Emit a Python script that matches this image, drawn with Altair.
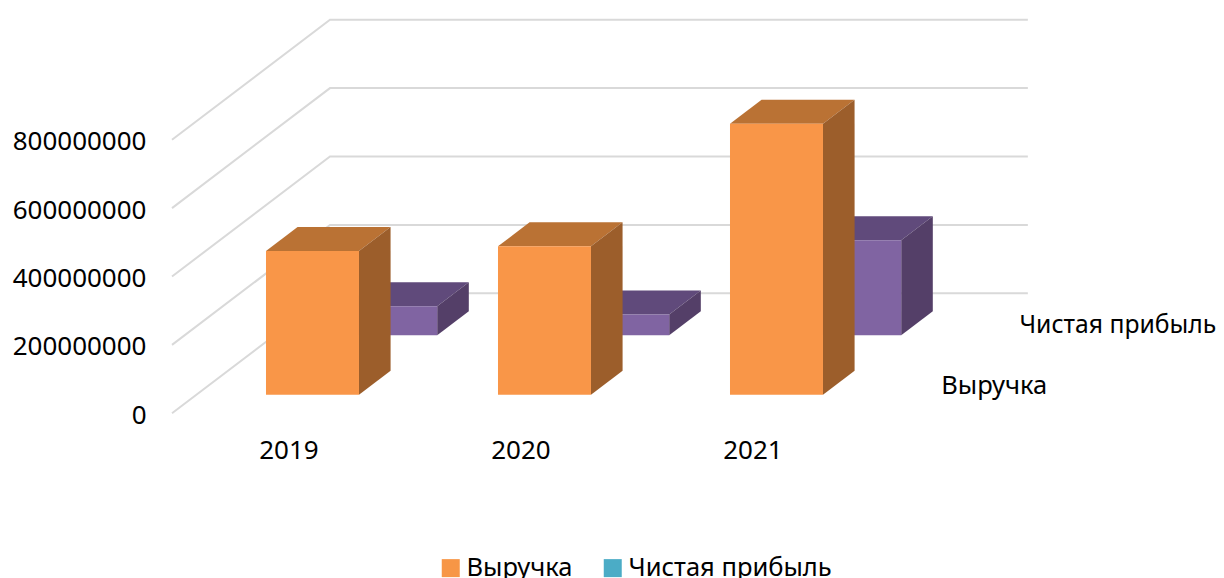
import altair as alt
import pandas as pd

years = ["2019", "2020", "2021"]
revenue = [420e6, 434e6, 792e6]
profit = [85e6, 61e6, 278e6]
series = ["Выручка", "Чистая прибыль"]
ticks = [0, 200000000, 400000000, 600000000, 800000000]

# layout of the oblique projection (pixels of the picture)
STEP = 232.0; PX_PER_UNIT = 68.4 / 200e6
DEPTH_X = 158.0 / STEP; DEPTH_Y = 120.0 / PX_PER_UNIT
BAR_W = 93.0 / STEP
PAD_L = 165
W, H = 1043, 570
LEFT_PX, BASE_PX, ZERO_X = 173.0, 413.3, 288.0
DEPTHS = {"Выручка": (0.155, 0.355), "Чистая прибыль": (0.65, 0.85)}
FACE = {"Выручка": ("#F99648", "#BA7234", "#9C5E2B"),
        "Чистая прибыль": ("#8064A2", "#604A7B", "#543F68")}
FONT = "Noto Sans"; FS = 25.5; FS_NUM = 26
GRID = "#D9D9D9"

xs = alt.Scale(domain=[(LEFT_PX - ZERO_X) / STEP, (LEFT_PX + W - ZERO_X) / STEP], nice=False, zero=False)
ys = alt.Scale(domain=[(BASE_PX - (8 + H)) / PX_PER_UNIT, (BASE_PX - 8) / PX_PER_UNIT], nice=False, zero=False)
YAX = alt.Axis(values=ticks, domain=False, ticks=False, grid=False, title=None,
               labelFont=FONT, labelFontSize=FS_NUM, labelColor="#000000", labelOffset=2,
               labelPadding=27, format="d", labelLimit=300, labelOverlap=False, labelBound=False, labelFlush=False)
X = lambda f: alt.X(f, type="quantitative", scale=xs, axis=None)
Y = lambda f: alt.Y(f, type="quantitative", scale=ys, axis=YAX)
X2 = lambda f: alt.X2(f)
Y2 = lambda f: alt.Y2(f)


def proj(i, v, d):
    return i + d * DEPTH_X, v + d * DEPTH_Y


# gridlines
g = []
for n, t in enumerate(ticks):
    for m, (i, d) in enumerate([(-0.5, 0), (-0.5, 1), (2.508, 1)]):
        px, py = proj(i, t, d)
        g.append({"id": n, "o": m, "x": px, "y": py})
grid = alt.Chart(pd.DataFrame(g)).mark_line(color=GRID, strokeWidth=2).encode(
    x=X("x"), y=Y("y"), order="o:Q", detail="id:N")


def bars(name, vals):
    d0, d1 = DEPTHS[name]
    front, top, side = [], [], []
    for k, v in enumerate(vals):
        l, r = k - BAR_W / 2, k + BAR_W / 2
        lx, by = proj(l, 0, d0); rx, ty = proj(r, v, d0)
        front.append({"x": lx, "x2": rx, "y": by, "y2": ty})
        lbx, tby = proj(l, v, d1); rbx, bby = proj(r, 0, d1)
        top += [{"id": k, "y": ty, "x": lx, "x2": rx}, {"id": k, "y": tby, "x": lbx, "x2": rbx}]
        side += [{"id": k, "x": rx, "y": by, "y2": ty}, {"id": k, "x": rbx, "y": bby, "y2": tby}]
    f, t, s = FACE[name]
    return [
        alt.Chart(pd.DataFrame(top)).mark_area(color=t, orient="horizontal").encode(
            y=Y("y"), x=alt.X("x", type="quantitative", scale=xs, axis=None, stack=None), x2=X2("x2"), detail="id:N"),
        alt.Chart(pd.DataFrame(side)).mark_area(color=s, orient="vertical").encode(
            x=X("x"), y=alt.Y("y", type="quantitative", scale=ys, axis=YAX, stack=None), y2=Y2("y2"), detail="id:N"),
        alt.Chart(pd.DataFrame(front)).mark_rect(color=f).encode(x=X("x"), x2=X2("x2"), y=Y("y"), y2=Y2("y2")),
    ]


# category labels, series labels
cat = pd.DataFrame({"t": years, "x": [k + 1 / STEP for k in range(3)], "y": [(BASE_PX - 451) / PX_PER_UNIT] * 3})
catl = alt.Chart(cat).mark_text(font=FONT, fontSize=FS_NUM, color="#000000", align="center", baseline="middle").encode(
    x=X("x"), y=Y("y"), text="t:N")
ser = []
for name in series:
    d = sum(DEPTHS[name]) / 2
    px, py = proj(2.5, 0, d)
    ser.append({"t": name, "x": px + 33 / STEP, "y": py - 3 / PX_PER_UNIT, "fs": FS})
ser[1]["fs"] = 24.7
serl = alt.Chart(pd.DataFrame(ser)).mark_text(font=FONT, color="#000000", align="left", baseline="middle").encode(
    x=X("x"), y=Y("y"), text="t:N", size=alt.Size("fs:Q", scale=None, legend=None))

legend = alt.Chart(pd.DataFrame({"s": series, "x": [0, 0], "y": [0, 0]})).mark_square(size=0).encode(
    x=X("x"), y=Y("y"),
    color=alt.Color("s:N", sort=series, scale=alt.Scale(domain=series, range=["#F79646", "#4BACC6"]),
                    legend=alt.Legend(orient="none", legendX=265, legendY=547, direction="horizontal", title=None,
                                      symbolType="square", symbolSize=324, symbolStrokeWidth=0, symbolOpacity=1,
                                      labelFont=FONT, labelFontSize=FS, labelColor="#000000", labelLimit=400,
                                      columnPadding=27, labelOffset=3)))

chart = alt.layer(grid, *bars("Чистая прибыль", profit), *bars("Выручка", revenue), catl, serl, legend).properties(
    width=W, height=H, autosize=alt.AutoSizeParams(type="none"),
    padding={"left": PAD_L, "top": 0, "right": 0, "bottom": 0}, background="#FFFFFF"
).configure_view(stroke=None)

chart.save("out.html", embed_options={"renderer": "svg", "actions": False})
